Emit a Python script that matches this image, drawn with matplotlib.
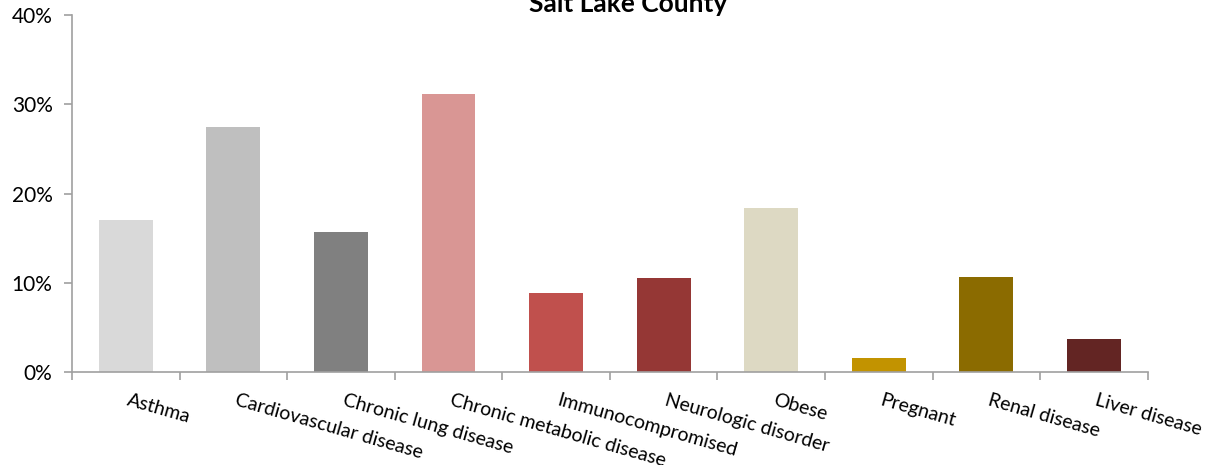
import matplotlib.pyplot as plt
import numpy as np

# categories and share of cases (%)
categories = ['Asthma', 'Cardiovascular disease', 'Chronic lung disease',
              'Chronic metabolic disease', 'Immunocompromised', 'Neurologic disorder',
              'Obese', 'Pregnant', 'Renal disease', 'Liver disease']
values = [17.0, 27.5, 15.7, 31.1, 8.9, 10.5, 18.4, 1.6, 10.7, 3.7]
colors = ['#D9D9D9', '#BFBFBF', '#808080', '#D99694', '#C0504D',
          '#953735', '#DDD9C3', '#C29300', '#8B6B00', '#632523']
yticks = [0, 10, 20, 30, 40]

plt.rcParams['font.family'] = ['Lato', 'DejaVu Sans']

fig = plt.figure(figsize=(12.06, 4.65), dpi=100)
ax = fig.add_axes([0.0597, 0.2, 0.892, 0.7677])

x = np.arange(len(categories))
ax.bar(x, values, width=0.5, color=colors)

ax.set_xlim(-0.5, len(categories) - 0.5)
ax.set_ylim(0, 40)
ax.set_yticks(yticks)
ax.set_yticklabels([f'{v}%' for v in yticks], fontsize=15)

# ticks on category boundaries, labels at centers
ax.set_xticks(np.arange(len(categories) + 1) - 0.5)
ax.set_xticklabels([])
ax.tick_params(axis='x', direction='out', length=6, color='#A0A0A0', width=1.2)
ax.tick_params(axis='y', direction='out', length=6, color='#A0A0A0', width=1.2, pad=8)
for i, lab in enumerate(categories):
    ax.text(i + 0.04, -2.2, lab, rotation=-16, rotation_mode='anchor',
            ha='left', va='top', fontsize=14)

for s in ['top', 'right']:
    ax.spines[s].set_visible(False)
for s in ['left', 'bottom']:
    ax.spines[s].set_color('#A0A0A0')
    ax.spines[s].set_linewidth(1.2)

fig.text(0.521, 0.974, 'Salt Lake County', ha='center', va='baseline',
         fontsize=19, fontweight='bold')

fig.savefig('out.png', dpi=100)
